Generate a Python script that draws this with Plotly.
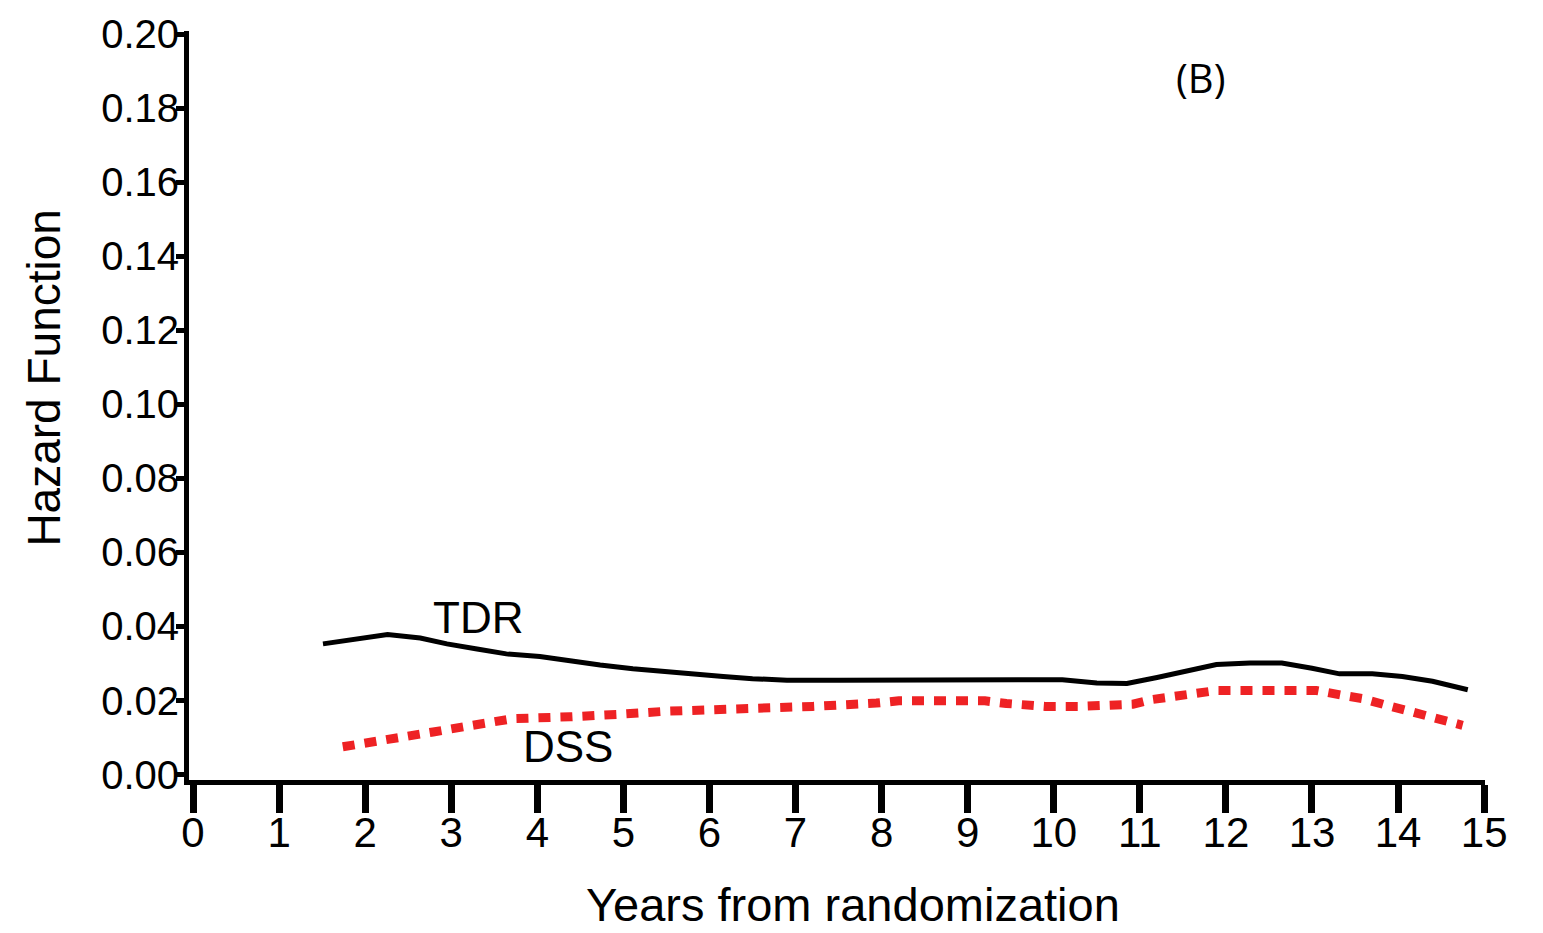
import plotly.graph_objects as go

# Smoothed hazard estimates by years since randomization
tdr_years = [1.51, 2.0, 2.26, 2.64, 2.95, 3.3, 3.64, 4.03, 4.4, 4.73, 5.11, 5.6, 6.16, 6.5, 6.9,
             7.5, 8.2, 9.0, 9.6, 10.1, 10.5, 10.85, 11.2, 11.5, 11.7, 11.89, 12.28, 12.65,
             13.0, 13.32, 13.7, 14.05, 14.4, 14.81]
tdr_hazard = [0.0353, 0.0368, 0.0378, 0.0369, 0.0353, 0.0339, 0.0326, 0.0319, 0.0306, 0.0296, 0.0286,
              0.0275, 0.0265, 0.0259, 0.0255, 0.0255, 0.0255, 0.0255, 0.0255, 0.0256, 0.0247, 0.0246,
              0.0262, 0.0277, 0.0287, 0.0297, 0.0301, 0.0301, 0.0287, 0.0272, 0.0272, 0.0265,
              0.0252, 0.0229]

dss_years = [1.74, 2.29, 2.79, 3.25, 3.72, 4.38, 4.73, 4.96, 5.5, 6.43, 7.2, 7.94, 8.2, 8.7, 9.2,
             9.45, 9.9, 10.3, 10.7, 10.92, 11.15, 11.38, 11.66, 11.89, 12.35, 12.7, 13.05,
             13.36, 13.59, 13.87, 14.33, 14.75]
dss_hazard = [0.0075, 0.0093, 0.0115, 0.0133, 0.0151, 0.0156, 0.0163, 0.0163, 0.0171, 0.0176, 0.0184,
              0.0193, 0.0199, 0.0199, 0.0199, 0.0192, 0.0184, 0.0184, 0.0184, 0.019, 0.0203, 0.0211,
              0.0219, 0.0227, 0.0227, 0.0227, 0.0227, 0.0214, 0.0205, 0.0187, 0.016, 0.0133]

x_ticks = list(range(0, 16))
y_ticks = [0.00, 0.02, 0.04, 0.06, 0.08, 0.10, 0.12, 0.14, 0.16, 0.18, 0.20]
y_tick_labels = [f"{v:.2f}" for v in y_ticks]

FONT = "Liberation Sans, Arial, sans-serif"
W, H = 1543, 933
ML, MR, MT, MB = 189, 58, 28, 153
PW, PH = W - ML - MR, H - MT - MB


def px_to_paper(px, py):
    """Convert page pixel coordinates to paper coordinates of the plot area."""
    return (px - ML) / PW, (H - MB - py) / PH


def centered_note(px, py, text, size, family=FONT, angle=0):
    x, y = px_to_paper(px, py)
    fig.add_annotation(x=x, y=y, xref="paper", yref="paper", text=text, showarrow=False,
                       xanchor="center", yanchor="middle", textangle=angle,
                       font=dict(family=family, size=size, color="#000000"))


fig = go.Figure()
fig.add_trace(go.Scatter(x=tdr_years, y=tdr_hazard, mode="lines", name="TDR",
                         line=dict(color="#000000", width=5), hoverinfo="skip"))
fig.add_trace(go.Scatter(x=dss_years, y=dss_hazard, mode="lines", name="DSS",
                         line=dict(color="#ee2224", width=9, dash="12px,10px"), hoverinfo="skip"))

fig.add_annotation(x=3.31, y=0.0424, text="TDR", showarrow=False,
                   font=dict(family=FONT, size=44, color="#000000"))
fig.add_annotation(x=4.36, y=0.0077, text="DSS", showarrow=False,
                   font=dict(family=FONT, size=44, color="#000000"))

centered_note(1200, 75, "(B)", 40, family="Open Sans, sans-serif")
# Axis titles placed as free annotations
centered_note(853, 905, "Years from randomization", 47)
centered_note(44, 376, "Hazard Function", 46, angle=-90)

fig.update_layout(
    width=W, height=H,
    margin=dict(l=ML, r=MR, t=MT, b=MB),
    paper_bgcolor="white", plot_bgcolor="white",
    showlegend=False,
    xaxis=dict(range=[-0.0465, 15.01], tickmode="array", tickvals=x_ticks,
               ticks="outside", ticklen=28, tickwidth=7, tickcolor="#000000",
               showline=True, linewidth=5, linecolor="#000000",
               showgrid=False, zeroline=False, ticklabelstandoff=-16,
               tickfont=dict(family=FONT, size=42, color="#000000")),
    yaxis=dict(range=[-0.00148, 0.2009], tickmode="array", tickvals=y_ticks,
               ticktext=y_tick_labels,
               ticks="outside", ticklen=8, tickwidth=5, tickcolor="#000000",
               showline=True, linewidth=5, linecolor="#000000",
               showgrid=False, zeroline=False, ticklabelstandoff=-11,
               tickfont=dict(family=FONT, size=40, color="#000000")),
)

fig.write_html("out.html")
